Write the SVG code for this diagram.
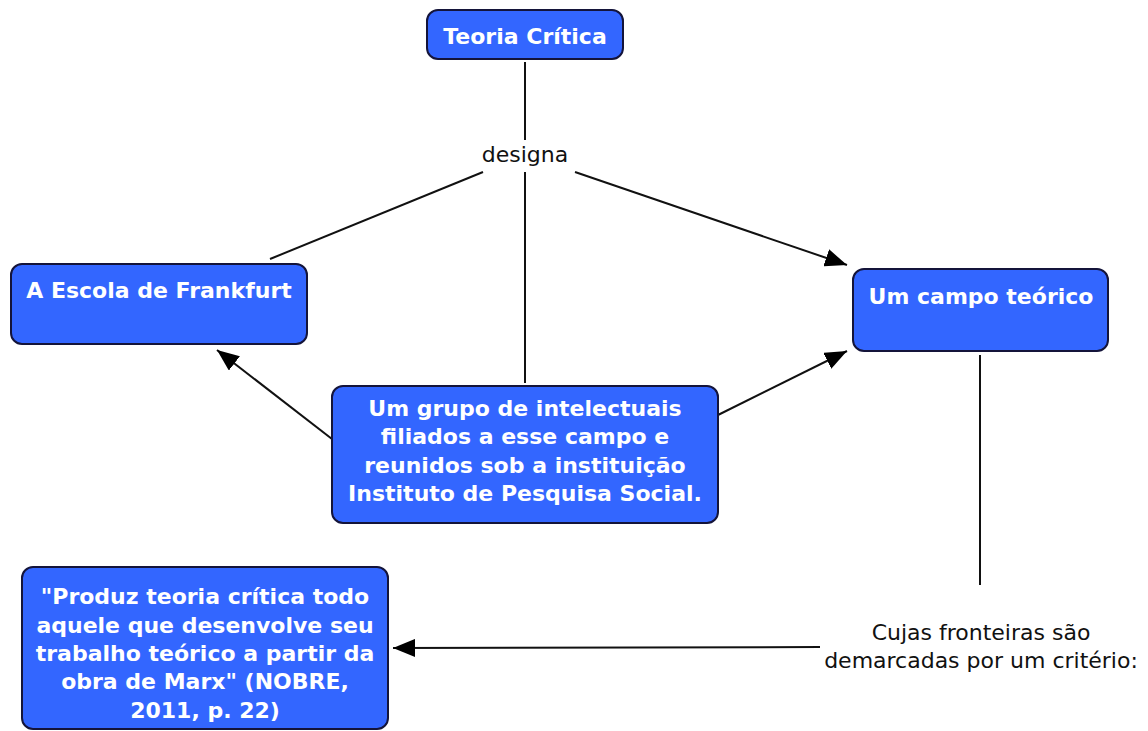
<svg xmlns="http://www.w3.org/2000/svg" width="1148" height="731" viewBox="0 0 1148 731">
<style>
.box{fill:#3366ff;stroke:#14143a;stroke-width:2}
.nt{font-family:"DejaVu Sans","Verdana",sans-serif;font-weight:bold;font-size:22px;fill:#ffffff;text-anchor:middle}
.lt{font-family:"DejaVu Sans","Verdana",sans-serif;font-size:22px;fill:#111111;text-anchor:middle}
.c{stroke:#111111;stroke-width:2;fill:none}
</style>
<defs>
<marker id="ah" viewBox="0 0 22 18" refX="22" refY="9" markerWidth="22" markerHeight="18" markerUnits="userSpaceOnUse" orient="auto">
<path d="M0,0 L22,9 L0,18 Z" fill="#000"/>
</marker>
</defs>
<rect width="1148" height="731" fill="#ffffff"/>
<g id="connectors">
<line class="c" x1="525" y1="62" x2="525" y2="140"/>
<line class="c" x1="483" y1="172" x2="270" y2="259"/>
<line class="c" x1="575" y1="172" x2="847" y2="265" marker-end="url(#ah)"/>
<line class="c" x1="525" y1="172" x2="525" y2="383"/>
<line class="c" x1="332" y1="439" x2="217" y2="350" marker-end="url(#ah)"/>
<line class="c" x1="718" y1="415" x2="847" y2="351" marker-end="url(#ah)"/>
<line class="c" x1="980" y1="355" x2="980" y2="585"/>
<line class="c" x1="820" y1="647" x2="393" y2="648" marker-end="url(#ah)"/>
</g>
<g id="teoria">
<rect class="box" x="427" y="10" width="196" height="49" rx="11"/>
<text class="nt" x="525" y="44">Teoria Crítica</text>
</g>
<g id="escola">
<rect class="box" x="11" y="264" width="296" height="80" rx="11"/>
<text class="nt" x="159" y="298">A Escola de Frankfurt</text>
</g>
<g id="campo">
<rect class="box" x="853" y="269" width="255" height="82" rx="11"/>
<text class="nt" x="981" y="304">Um campo teórico</text>
</g>
<g id="grupo">
<rect class="box" x="332" y="386" width="386" height="137" rx="11"/>
<text class="nt" x="525" y="416">Um grupo de intelectuais</text>
<text class="nt" x="525" y="444">filiados a esse campo e</text>
<text class="nt" x="525" y="473">reunidos sob a instituição</text>
<text class="nt" x="525" y="501">Instituto de Pesquisa Social.</text>
</g>
<g id="citacao">
<rect class="box" x="22" y="567" width="366" height="162" rx="11"/>
<text class="nt" x="205" y="604">"Produz teoria crítica todo</text>
<text class="nt" x="205" y="633">aquele que desenvolve seu</text>
<text class="nt" x="205" y="661">trabalho teórico a partir da</text>
<text class="nt" x="205" y="689">obra de Marx" (NOBRE,</text>
<text class="nt" x="205" y="718">2011, p. 22)</text>
</g>
<g id="label-designa">
<text class="lt" x="525" y="162">designa</text>
</g>
<g id="label-cujas">
<text class="lt" x="981" y="640">Cujas fronteiras são</text>
<text class="lt" x="981" y="668">demarcadas por um critério:</text>
</g>
</svg>
